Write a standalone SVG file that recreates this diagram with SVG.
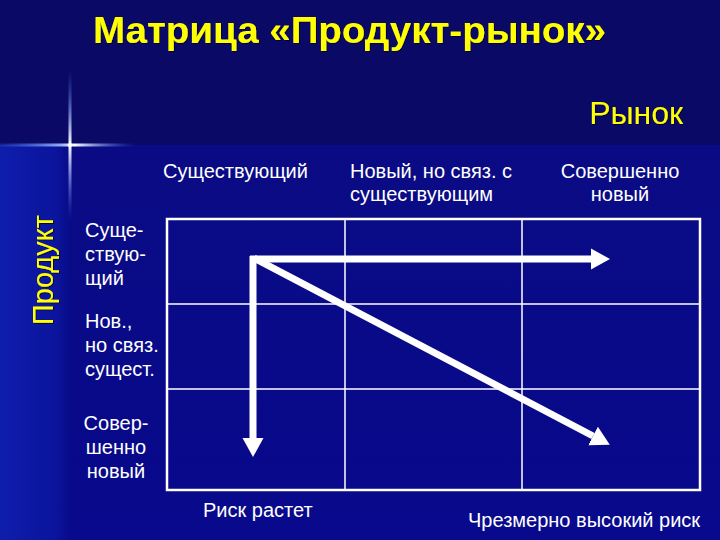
<svg xmlns="http://www.w3.org/2000/svg" width="720" height="540" viewBox="0 0 720 540">
  <defs>
    <linearGradient id="leftStrip" x1="0" y1="0" x2="1" y2="0">
      <stop offset="0" stop-color="#0e1eac"/>
      <stop offset="0.8" stop-color="#0b149c"/>
      <stop offset="1" stop-color="#090b88"/>
    </linearGradient>
    <linearGradient id="lower" x1="0" y1="0" x2="0" y2="1">
      <stop offset="0" stop-color="#0a0b84"/>
      <stop offset="1" stop-color="#08098c"/>
    </linearGradient>
    <linearGradient id="glowH" x1="0" y1="0" x2="1" y2="0">
      <stop offset="0" stop-color="#3a6cff" stop-opacity="0.2"/>
      <stop offset="0.45" stop-color="#9fc0ff" stop-opacity="0.9"/>
      <stop offset="0.55" stop-color="#ffffff" stop-opacity="1"/>
      <stop offset="1" stop-color="#3a6cff" stop-opacity="0"/>
    </linearGradient>
    <linearGradient id="glowV" x1="0" y1="0" x2="0" y2="1">
      <stop offset="0" stop-color="#3a6cff" stop-opacity="0"/>
      <stop offset="0.5" stop-color="#ffffff" stop-opacity="1"/>
      <stop offset="1" stop-color="#3a6cff" stop-opacity="0"/>
    </linearGradient>
    <marker id="head" markerUnits="userSpaceOnUse" markerWidth="20" markerHeight="22" refX="0" refY="10.5" orient="auto" viewBox="0 0 20 21">
      <path d="M0,0 L19,10.5 L0,21 Z" fill="#ffffff"/>
    </marker>
    <filter id="shadow" x="-5%" y="-5%" width="110%" height="120%">
      <feDropShadow dx="1" dy="1" stdDeviation="0.6" flood-color="#000030" flood-opacity="0.8"/>
    </filter>
  </defs>
  <style>
    .cell { font-family: "Liberation Sans", Arial, sans-serif; font-size: 20px; fill: #ffffff; }
    .yel { font-family: "Liberation Sans", Arial, sans-serif; fill: #ffff00; }
    .grid { stroke: #ffffff; fill: none; }
    .arrow { stroke: #ffffff; stroke-width: 7; fill: none; }
  </style>

  <!-- background -->
  <rect x="0" y="0" width="720" height="540" fill="#0a0a66"/>
  <rect x="0" y="145" width="720" height="395" fill="url(#lower)"/>
  <rect x="0" y="145" width="70" height="395" fill="url(#leftStrip)"/>
  <!-- sparkle -->
  <rect x="0" y="143.5" width="135" height="3" fill="url(#glowH)"/>
  <rect x="68.5" y="70" width="3" height="150" fill="url(#glowV)"/>
  <circle cx="70" cy="145" r="2" fill="#ffffff"/>

  <!-- title -->
  <g id="title" filter="url(#shadow)">
    <text class="yel" x="93" y="43" font-size="37" font-weight="bold" textLength="513" lengthAdjust="spacingAndGlyphs">Матрица «Продукт-рынок»</text>
  </g>
  <g id="market-label" filter="url(#shadow)">
    <text class="yel" x="683" y="124" font-size="32" text-anchor="end">Рынок</text>
  </g>
  <g id="product-label" filter="url(#shadow)">
    <text class="yel" x="0" y="0" font-size="29" text-anchor="middle" transform="translate(53,270) rotate(-90)">Продукт</text>
  </g>

  <!-- column headers -->
  <g id="col1"><text class="cell" x="163" y="178">Существующий</text></g>
  <g id="col2">
    <text class="cell" x="350" y="178">Новый, но связ. с</text>
    <text class="cell" x="350" y="201">существующим</text>
  </g>
  <g id="col3">
    <text class="cell" x="620" y="178" text-anchor="middle">Совершенно</text>
    <text class="cell" x="620" y="201" text-anchor="middle">новый</text>
  </g>

  <!-- row headers -->
  <g id="row1">
    <text class="cell" x="85" y="237">Суще-</text>
    <text class="cell" x="85" y="261">ствую-</text>
    <text class="cell" x="85" y="285">щий</text>
  </g>
  <g id="row2">
    <text class="cell" x="85" y="328">Нов.,</text>
    <text class="cell" x="85" y="352">но связ.</text>
    <text class="cell" x="85" y="376">сущест.</text>
  </g>
  <g id="row3">
    <text class="cell" x="116" y="430" text-anchor="middle">Совер-</text>
    <text class="cell" x="116" y="454" text-anchor="middle">шенно</text>
    <text class="cell" x="116" y="478" text-anchor="middle">новый</text>
  </g>

  <!-- grid -->
  <g id="grid">
    <rect class="grid" x="167" y="219" width="533" height="271" stroke-width="2.5"/>
    <line class="grid" x1="345" y1="219" x2="345" y2="490" stroke-width="1.5"/>
    <line class="grid" x1="522" y1="219" x2="522" y2="490" stroke-width="1.5"/>
    <line class="grid" x1="167" y1="304" x2="700" y2="304" stroke-width="1.5"/>
    <line class="grid" x1="167" y1="389" x2="700" y2="389" stroke-width="1.5"/>
  </g>

  <!-- connectors -->
  <g id="connectors">
    <line class="arrow" x1="250" y1="259" x2="591" y2="259" marker-end="url(#head)"/>
    <line class="arrow" x1="253" y1="256" x2="253" y2="438" marker-end="url(#head)"/>
    <line class="arrow" x1="254" y1="258" x2="593" y2="436" marker-end="url(#head)"/>
  </g>

  <!-- bottom labels -->
  <g id="risk-grows"><text class="cell" x="203" y="517">Риск растет</text></g>
  <g id="risk-high"><text class="cell" x="468" y="527">Чрезмерно высокий риск</text></g>
</svg>
